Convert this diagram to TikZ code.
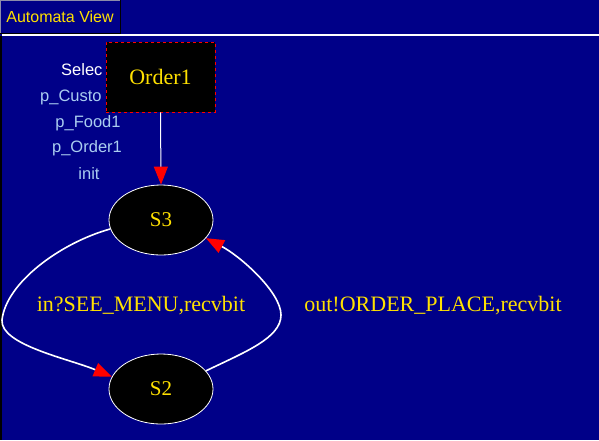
\documentclass[tikz,border=0pt]{standalone}
\usepackage{fontspec}
\setmainfont{Liberation Serif}
\setsansfont{Liberation Sans}
\usetikzlibrary{arrows.meta,shapes.geometric}
\definecolor{navybg}{RGB}{0,0,136}
\definecolor{goldtxt}{RGB}{255,225,0}
\definecolor{varblue}{RGB}{170,205,240}
\definecolor{tabgray}{RGB}{140,140,170}
\tikzset{
  statenode/.style={ellipse, draw=white, line width=0.8pt, fill=black,
    minimum width=104pt, minimum height=70pt, inner sep=0pt,
    font=\fontsize{21}{21}\selectfont, text=goldtxt},
  initbox/.style={rectangle, draw=red, dashed, line width=0.8pt, fill=black,
    minimum width=109pt, minimum height=70pt, inner sep=0pt,
    font=\fontsize{22}{22}\selectfont, text=goldtxt},
  varlabel/.style={font=\sffamily\fontsize{16.5}{16.5}\selectfont, text=varblue, inner sep=0pt},
  edgelabel/.style={font=\fontsize{22}{22}\selectfont, text=goldtxt, inner sep=0pt},
  edge/.style={draw=white, line width=1.6pt,
    -{Triangle[length=18pt,width=14pt,color=red]}}
}
\begin{document}
\begin{tikzpicture}[x=1pt,y=-1pt]
\useasboundingbox (0,0) rectangle (599,440);
\fill[navybg] (0,0) rectangle (599,440);
% tab
\node[draw=none, fill=navybg, minimum width=120pt, minimum height=33pt, inner sep=0pt,
  font=\sffamily\fontsize{16}{16}\selectfont, text=goldtxt] (tab) at (60,16.5) {Automata View};
\draw[tabgray, line width=1pt] (0.5,33) -- (0.5,0.5) -- (120,0.5);
\draw[black, line width=1.5pt] (120.5,0) -- (120.5,33);
\draw[black, line width=1pt] (0,33) -- (121,33);
\draw[white, line width=2pt] (2,34.5) -- (599,34.5);
\draw[black, line width=2pt] (1,35.5) -- (1,440);
% variable labels
\node[varlabel, anchor=west, text=white] (v1) at (61,70) {Selec};
\node[varlabel, anchor=west] (v2) at (40,97) {p\_Custo};
\node[varlabel] (v3) at (88,123.5) {p\_Food1};
\node[varlabel] (v4) at (87,148.5) {p\_Order1};
\node[varlabel] (v5) at (89,174) {init};
% nodes
\node[initbox] (order) at (160.5,77) {Order1};
\node[statenode] (s3) at (161,220) {S3};
\node[statenode] (s2) at (161,389) {S2};
\coordinate (lmid) at (2,320);
\coordinate (rmid) at (281,315);
% edges
\draw[edge, line width=1pt] (order.south) -- (s3.north);
\draw[edge] (s3.190) .. controls (60,243) and (6,283) .. (lmid)
  .. controls (0,345) and (70,359) .. (s2.166);
\draw[edge] (s2.22) .. controls (245,352) and (281,338) .. (rmid)
  .. controls (281,292) and (240,256) .. (s3.-22);
% labels
\node[edgelabel] (l1) at (141,306) {in?SEE\_MENU,recvbit};
\node[edgelabel] (l2) at (433,306) {out!ORDER\_PLACE,recvbit};
\end{tikzpicture}
\end{document}
